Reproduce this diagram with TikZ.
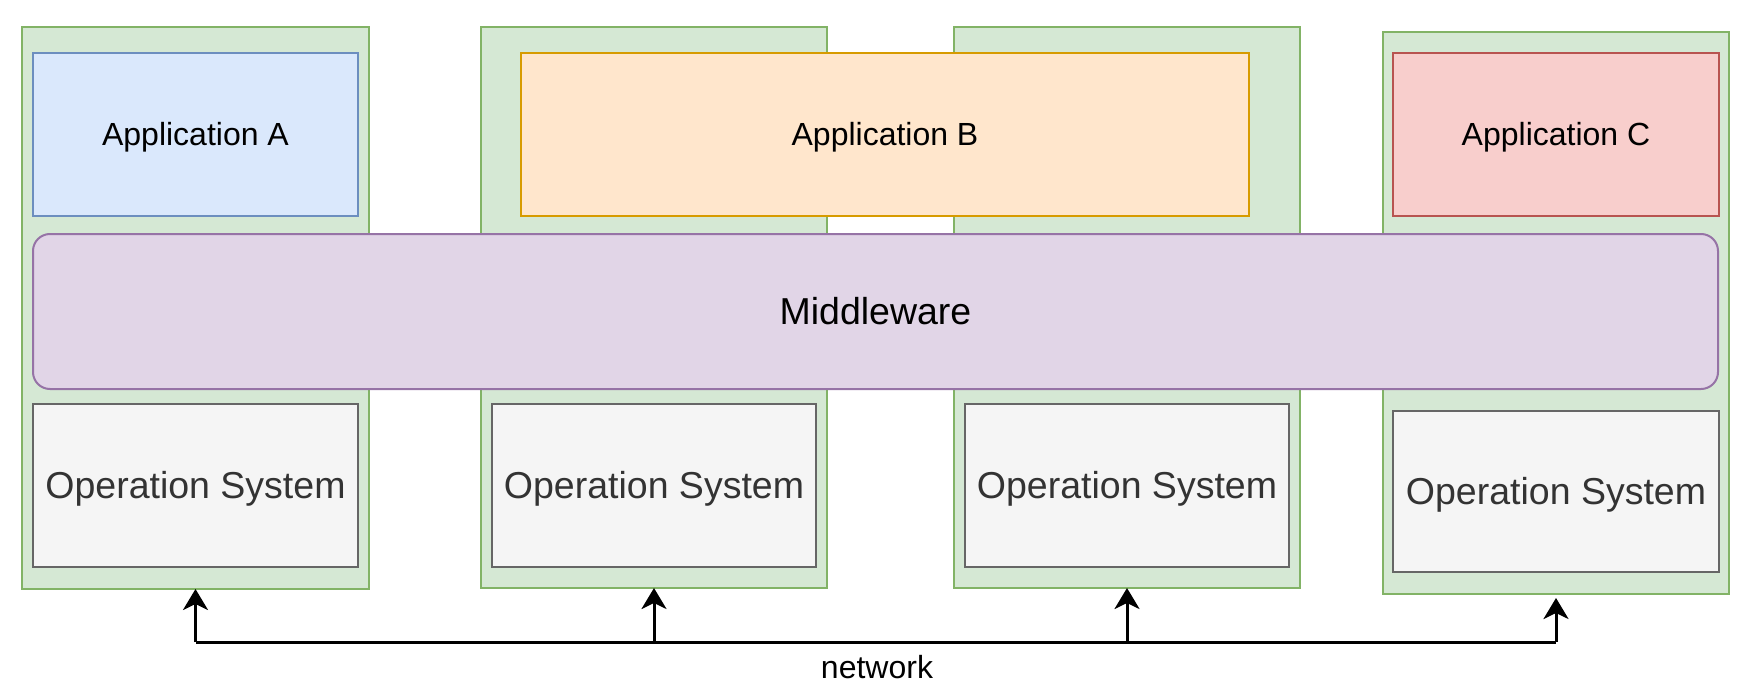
\documentclass[tikz,border=0pt]{standalone}
\usepackage{fontspec}
\setmainfont{Liberation Sans}
\usetikzlibrary{arrows.meta}
\definecolor{gfill}{HTML}{D5E8D4}\definecolor{gline}{HTML}{82B366}
\definecolor{bfill}{HTML}{DAE8FC}\definecolor{bline}{HTML}{6C8EBF}
\definecolor{ofill}{HTML}{FFE6CC}\definecolor{oline}{HTML}{D79B00}
\definecolor{rfill}{HTML}{F8CECC}\definecolor{rline}{HTML}{B85450}
\definecolor{pfill}{HTML}{E1D5E7}\definecolor{pline}{HTML}{9673A6}
\definecolor{osfill}{HTML}{F5F5F5}\definecolor{osline}{HTML}{666666}
\definecolor{ostext}{HTML}{333333}
\tikzset{
  box/.style={draw,line width=2pt,inner sep=0pt,outer sep=0pt,text depth=0pt},
  hostbox/.style={box,fill=gfill,draw=gline},
  appfont/.style={font=\fontsize{32}{38}\selectfont,text height=22.9pt},
  bigfont/.style={font=\fontsize{37.5}{44}\selectfont,text height=26.9pt},
  appA/.style={box,fill=bfill,draw=bline,appfont},
  appB/.style={box,fill=ofill,draw=oline,appfont},
  appC/.style={box,fill=rfill,draw=rline,appfont},
  osbox/.style={box,fill=osfill,draw=osline,text=ostext,bigfont,minimum height=163pt},
  mwbox/.style={box,fill=pfill,draw=pline,rounded corners=17pt,bigfont},
  netline/.style={line width=3pt},
  netarrow/.style={line width=3pt,-{Stealth[length=21pt,width=25pt,inset=6pt]}}
}
\begin{document}
\begin{tikzpicture}[x=1pt,y=-1pt]
\useasboundingbox (0,0) rectangle (1764,696);
% hosts
\node[hostbox,minimum width=347pt,minimum height=562pt] (gA) at (195.5,308) {};
\node[hostbox,minimum width=346pt,minimum height=561pt] (gB1) at (654,307.5) {};
\node[hostbox,minimum width=346pt,minimum height=561pt] (gB2) at (1127,307.5) {};
\node[hostbox,minimum width=346pt,minimum height=562pt] (gC) at (1556,313) {};
% applications
\node[appA,minimum width=325pt,minimum height=163pt] (aA) at (195.5,134.5) {Application A};
\node[appB,minimum width=728pt,minimum height=163pt] (aB) at (885,134.5) {Application B};
\node[appC,minimum width=326pt,minimum height=163pt] (aC) at (1556,134.5) {Application C};
% operating systems
\node[osbox,minimum width=325pt] (oA) at (195.5,485.5) {Operation System};
\node[osbox,minimum width=324pt] (oB1) at (654,485.5) {Operation System};
\node[osbox,minimum width=324pt] (oB2) at (1127,485.5) {Operation System};
\node[osbox,minimum width=326pt,minimum height=161pt] (oC) at (1556,491.5) {Operation System};
% middleware
\node[mwbox,minimum width=1685pt,minimum height=155pt] (mw) at (875.5,311.5) {Middleware};
% network
\coordinate (nA) at (195.5,642);
\coordinate (nB1) at (654,642);
\coordinate (nB2) at (1127,642);
\coordinate (nC) at (1556,642);
\draw[netline] (nA) -- (nC);
\draw[netarrow] (nA) -- (gA.south);
\draw[netarrow] (nB1) -- (gB1.south);
\draw[netarrow] (nB2) -- (gB2.south);
\draw[netarrow,shorten >=4pt] (nC) -- (gC.south);
\node[font=\fontsize{32}{38}\selectfont,anchor=base,inner sep=0pt] (net) at (877,678) {network};
\end{tikzpicture}
\end{document}
